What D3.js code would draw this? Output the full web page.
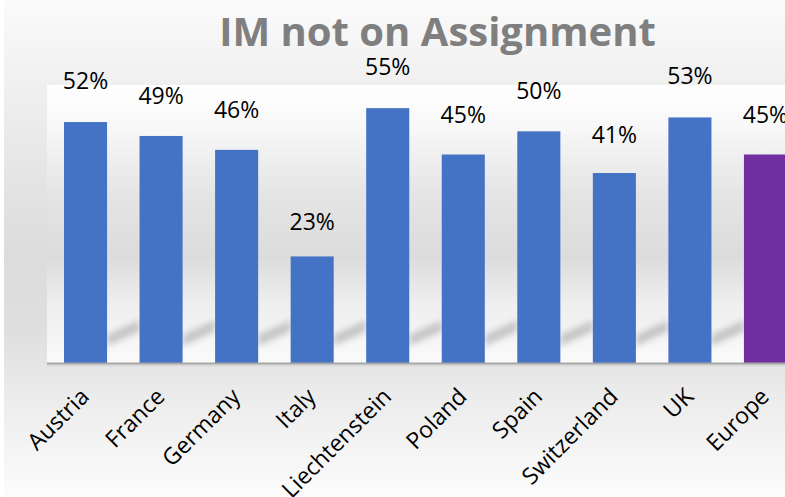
<!DOCTYPE html>
<html>
<head>
<meta charset="utf-8">
<script src="https://cdn.jsdelivr.net/npm/d3@7"></script>
<style>
  html, body { margin: 0; padding: 0; background: #ffffff; }
  svg { display: block; }
  .value-label { font-family: "Open Sans", sans-serif; font-size: 23px; fill: #000; }
  .cat-label { font-family: "Open Sans", sans-serif; font-size: 23px; fill: #000; }
  .title { font-family: "Open Sans", sans-serif; font-weight: bold; font-size: 40px; fill: #7f7f7f; }
</style>
</head>
<body>
<div id="chart"></div>
<script>
// Chart data
var categories = ["Austria", "France", "Germany", "Italy", "Liechtenstein", "Poland", "Spain", "Switzerland", "UK", "Europe"];
var values = [0.52, 0.49, 0.46, 0.23, 0.55, 0.45, 0.50, 0.41, 0.53, 0.45];
var barColors = ["#4472c4", "#4472c4", "#4472c4", "#4472c4", "#4472c4", "#4472c4", "#4472c4", "#4472c4", "#4472c4", "#7030a0"];
var chartTitle = "IM not on Assignment";

var data = categories.map(function(c, i) {
  return { name: c, value: values[i], color: barColors[i] };
});

var width = 785, height = 497;
var plot = { left: 47, top: 85, right: 804, bottom: 363 };

var svg = d3.select("#chart")
  .append("svg")
  .attr("width", width)
  .attr("height", height);

var defs = svg.append("defs");

// outer background gradient
var bgGrad = defs.append("linearGradient")
  .attr("id", "bgGrad").attr("x1", 0).attr("y1", 0).attr("x2", 0).attr("y2", 1);
bgGrad.append("stop").attr("offset", "0%").attr("stop-color", "#fbfbfb");
bgGrad.append("stop").attr("offset", "12%").attr("stop-color", "#f3f3f3");
bgGrad.append("stop").attr("offset", "50%").attr("stop-color", "#dcdcdc");
bgGrad.append("stop").attr("offset", "66%").attr("stop-color", "#dedede");
bgGrad.append("stop").attr("offset", "80%").attr("stop-color", "#ececec");
bgGrad.append("stop").attr("offset", "100%").attr("stop-color", "#fcfcfc");

// plot area gradient
var plotGrad = defs.append("linearGradient")
  .attr("id", "plotGrad").attr("x1", 0).attr("y1", 0).attr("x2", 0).attr("y2", 1);
plotGrad.append("stop").attr("offset", "0%").attr("stop-color", "#ffffff");
plotGrad.append("stop").attr("offset", "15%").attr("stop-color", "#f8f8f8");
plotGrad.append("stop").attr("offset", "40%").attr("stop-color", "#e4e4e4");
plotGrad.append("stop").attr("offset", "62%").attr("stop-color", "#dcdcdc");
plotGrad.append("stop").attr("offset", "78%").attr("stop-color", "#eeeeee");
plotGrad.append("stop").attr("offset", "88%").attr("stop-color", "#f3f3f3");
plotGrad.append("stop").attr("offset", "100%").attr("stop-color", "#fbfbfb");

defs.append("filter").attr("id", "blur")
  .attr("x", "-50%").attr("y", "-50%").attr("width", "200%").attr("height", "200%")
  .append("feGaussianBlur").attr("stdDeviation", 3);

defs.append("clipPath").attr("id", "plotClip")
  .append("rect")
  .attr("x", plot.left).attr("y", plot.top)
  .attr("width", plot.right - plot.left).attr("height", plot.bottom - plot.top);

svg.append("rect")
  .attr("x", 4).attr("y", 0)
  .attr("width", width - 4).attr("height", height)
  .attr("fill", "url(#bgGrad)");

svg.append("rect")
  .attr("x", plot.left).attr("y", plot.top)
  .attr("width", plot.right - plot.left).attr("height", plot.bottom - plot.top)
  .attr("fill", "url(#plotGrad)");

// Scales
var x = d3.scaleBand()
  .domain(categories)
  .range([plot.left, plot.right])
  .paddingInner(0.43)
  .paddingOuter(0.225);

var y = d3.scaleLinear()
  .domain([0, 0.6])
  .range([plot.bottom, plot.top]);

// label positions follow the original's perspective offset
var labelY = d3.scaleLinear()
  .domain([0, 0.6])
  .range([342.3, 50.2]);

var step = x.step();
var bw = x.bandwidth();

// soft diagonal shadows between the bars
svg.append("g")
  .attr("clip-path", "url(#plotClip)")
  .selectAll("path")
  .data(data)
  .enter()
  .append("path")
  .attr("d", function(d) {
    var x0 = x(d.name) + bw, x1 = x(d.name) + step;
    return "M" + x0 + "," + 346 + "L" + x1 + "," + 331 + "L" + x1 + "," + 320 + "L" + x0 + "," + 335 + "Z";
  })
  .attr("fill", "#c4c4c4")
  .attr("filter", "url(#blur)");

// Bars
svg.append("g")
  .selectAll("rect")
  .data(data)
  .enter()
  .append("rect")
  .attr("x", function(d) { return x(d.name); })
  .attr("y", function(d) { return y(d.value); })
  .attr("width", bw)
  .attr("height", function(d) { return y(0) - y(d.value); })
  .attr("fill", function(d) { return d.color; });

// Baseline
svg.append("line")
  .attr("x1", plot.left).attr("x2", width)
  .attr("y1", plot.bottom + 2.5).attr("y2", plot.bottom + 2.5)
  .attr("stroke", "#dadada").attr("stroke-width", 2);
svg.append("line")
  .attr("x1", plot.left).attr("x2", width)
  .attr("y1", plot.bottom + 0.5).attr("y2", plot.bottom + 0.5)
  .attr("stroke", "#a6a6a6").attr("stroke-width", 2);

// Value labels
var fmt = d3.format(".0%");
svg.append("g")
  .selectAll("text")
  .data(data)
  .enter()
  .append("text")
  .attr("class", "value-label")
  .attr("text-anchor", "middle")
  .attr("x", function(d) { return x(d.name) + bw / 2; })
  .attr("y", function(d) { return labelY(d.value); })
  .text(function(d) { return fmt(d.value); });

// Category labels, rotated
svg.append("g")
  .selectAll("text")
  .data(data)
  .enter()
  .append("text")
  .attr("class", "cat-label")
  .attr("text-anchor", "end")
  .attr("transform", function(d) {
    return "translate(" + (x(d.name) + bw / 2 + 5) + "," + 398 + ") rotate(-45)";
  })
  .text(function(d) { return d.name; });

// Title
svg.append("text")
  .attr("class", "title")
  .attr("text-anchor", "middle")
  .attr("x", 437.5)
  .attr("y", 46)
  .text(chartTitle);
</script>
</body>
</html>
